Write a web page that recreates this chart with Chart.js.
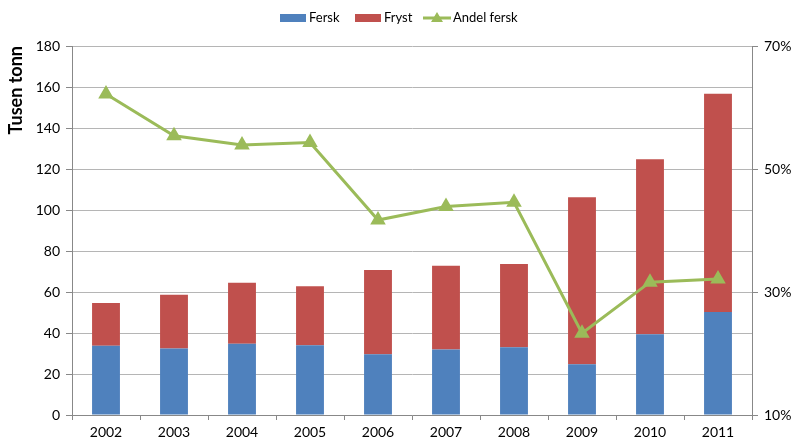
<!DOCTYPE html>
<html>
<head>
<meta charset="utf-8">
<script src="https://cdn.jsdelivr.net/npm/chart.js@4.4.0/dist/chart.umd.min.js"></script>
<style>
    html, body { margin: 0; padding: 0; background: #fff; }
    #wrap { width: 798px; height: 446px; }
</style>
</head>
<body>
<div id="wrap"><canvas id="chart" width="798" height="446"></canvas></div>
<script>
const years = ['2002', '2003', '2004', '2005', '2006', '2007', '2008', '2009', '2010', '2011'];
const fersk = [33.8, 32.5, 34.8, 34.0, 29.6, 32.0, 33.0, 24.7, 39.4, 50.2];
const fryst = [20.8, 26.2, 29.7, 28.8, 41.1, 40.8, 40.7, 81.5, 85.3, 106.5];
const andelFersk = [62.2, 55.4, 53.9, 54.3, 41.7, 43.9, 44.6, 23.3, 31.6, 32.1];

const BLUE = '#4F81BD';
const RED = '#C0504D';
const GREEN = '#9BBB59';
const FONT = 'Lato, "Open Sans", sans-serif';

// legend drawn by hand so the line entry looks like Excel's (line + triangle)
const legendPlugin = {
    id: 'excelLegend',
    afterDraw(chart) {
        const ctx = chart.ctx;
        ctx.save();
        ctx.font = '13px ' + FONT;
        ctx.textBaseline = 'middle';
        const y = 18;
        ctx.fillStyle = BLUE;
        ctx.fillRect(280, 14, 26, 8);
        ctx.fillStyle = '#000';
        ctx.fillText('Fersk', 309, y);
        ctx.fillStyle = RED;
        ctx.fillRect(355, 14, 26, 8);
        ctx.fillStyle = '#000';
        ctx.fillText('Fryst', 384, y);
        ctx.strokeStyle = GREEN;
        ctx.lineWidth = 3;
        ctx.beginPath();
        ctx.moveTo(423, y);
        ctx.lineTo(451, y);
        ctx.stroke();
        ctx.fillStyle = GREEN;
        ctx.beginPath();
        ctx.moveTo(437, y - 6);
        ctx.lineTo(443, y + 4);
        ctx.lineTo(431, y + 4);
        ctx.closePath();
        ctx.fill();
        ctx.fillStyle = '#000';
        ctx.fillText('Andel fersk', 453, y);
        ctx.restore();
    }
};

new Chart(document.getElementById('chart'), {
    type: 'bar',
    data: {
        labels: years,
        datasets: [
            { type: 'line', label: 'Andel fersk', data: andelFersk, yAxisID: 'y1',
              borderColor: GREEN, backgroundColor: GREEN, borderWidth: 3,
              pointStyle: 'triangle', pointRadius: 6, pointHoverRadius: 6, tension: 0, order: 0 },
            { label: 'Fersk', data: fersk, backgroundColor: BLUE, stack: 's', yAxisID: 'y',
              categoryPercentage: 1, barPercentage: 0.41, order: 1 },
            { label: 'Fryst', data: fryst, backgroundColor: RED, stack: 's', yAxisID: 'y',
              categoryPercentage: 1, barPercentage: 0.41, order: 1 }
        ]
    },
    options: {
        responsive: false,
        animation: false,
        layout: { padding: { top: 46, left: 0, right: 0, bottom: 0 } },
        plugins: { legend: { display: false }, tooltip: { enabled: false } },
        scales: {
            x: {
                stacked: true,
                grid: { offset: true, drawOnChartArea: false, tickLength: 5, color: '#888' },
                border: { color: '#888' },
                ticks: { color: '#000', font: { family: FONT, size: 14 }, padding: 4 },
                afterFit(s) { s.height = 31; }
            },
            y: {
                stacked: true,
                min: 0, max: 180,
                ticks: { stepSize: 20, color: '#000', font: { family: FONT, size: 14 }, padding: 6 },
                grid: { color: '#b5b5b5', tickLength: 6, tickColor: '#888' },
                border: { color: '#888' },
                title: { display: true, text: 'Tusen tonn', color: '#000', align: 'end',
                         font: { family: FONT, size: 18, weight: 'bold' }, padding: { top: 5, bottom: 2 } },
                afterFit(s) { s.width = 72; }
            },
            y1: {
                position: 'right',
                min: 10, max: 70,
                ticks: { stepSize: 20, color: '#000', font: { family: FONT, size: 14 }, padding: 6,
                         callback: v => v + '%' },
                grid: { drawOnChartArea: false, tickLength: 6, color: '#888' },
                border: { color: '#888' },
                afterFit(s) { s.width = 46; }
            }
        }
    },
    plugins: [legendPlugin]
});
</script>
</body>
</html>
